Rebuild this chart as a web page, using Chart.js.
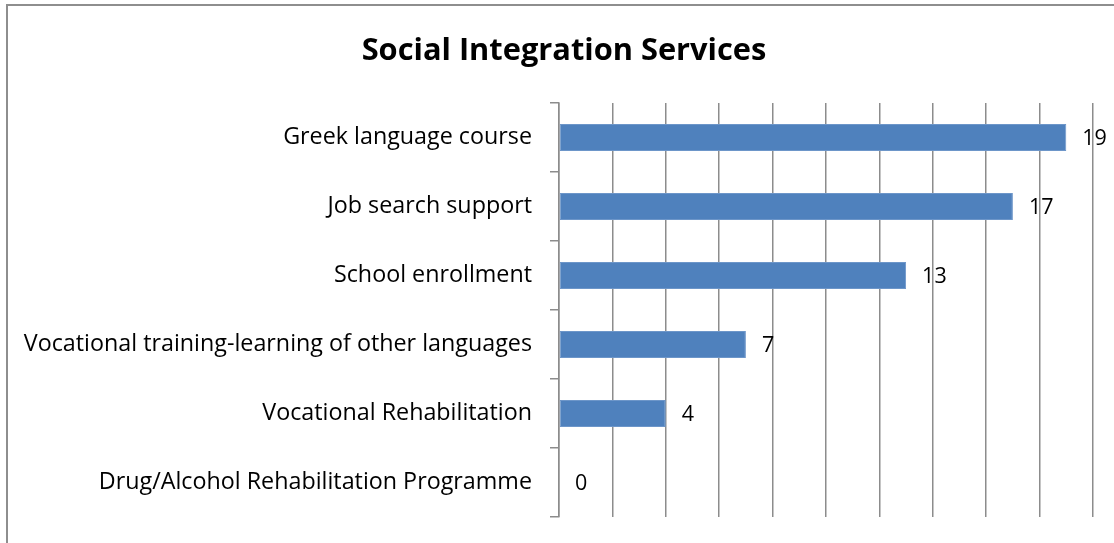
<!DOCTYPE html>
<html>
<head>
<meta charset="utf-8">
<script src="https://cdn.jsdelivr.net/npm/chart.js@4/dist/chart.umd.min.js"></script>
<style>
  html, body { margin: 0; padding: 0; background: #fff; overflow: hidden; }
  #wrap { position: relative; width: 1114px; height: 543px; }
  #frame { position: absolute; left: 6px; top: 4px; width: 1200px; height: 600px;
           border-left: 2px solid #8e8e8e; border-top: 2px solid #8e8e8e; box-sizing: border-box; }
  canvas { position: absolute; left: 0; top: 0; }
</style>
</head>
<body>
<div id="wrap">
  <div id="frame"></div>
  <canvas id="chart" width="1114" height="543"></canvas>
</div>
<script>
// Services offered and the number of beneficiaries for each
const categories = [
  'Greek language course',
  'Job search support',
  'School enrollment',
  'Vocational training-learning of other languages',
  'Vocational Rehabilitation',
  'Drug/Alcohol Rehabilitation Programme'
];
const counts = [19, 17, 13, 7, 4, 0];
const axisMax = 20;
const axisStep = 2;

const FONT = '"Open Sans", "Noto Sans", sans-serif';
const GRID = '#8c8c8c';

// Writes each bar's value just past its end
const valueLabels = {
  id: 'valueLabels',
  afterDatasetsDraw(chart) {
    const ctx = chart.ctx;
    const meta = chart.getDatasetMeta(0);
    ctx.save();
    ctx.font = '21.5px ' + FONT;
    ctx.fillStyle = '#000';
    ctx.textAlign = 'left';
    ctx.textBaseline = 'middle';
    meta.data.forEach((bar, i) => {
      ctx.fillText(String(chart.data.datasets[0].data[i]), bar.x + 16, bar.y + 1);
    });
    ctx.restore();
  }
};

// Lets the long category names use the empty margin left of the axis box
const widenCategoryLabels = {
  id: 'widenCategoryLabels',
  afterLayout(chart) {
    const y = chart.scales.y;
    y.left = 0;
    y.width = y.right;
  }
};

new Chart(document.getElementById('chart'), {
  type: 'bar',
  data: {
    labels: categories,
    datasets: [{
      data: counts,
      backgroundColor: '#4f81bd',
      borderColor: '#6d96c9',
      borderWidth: 1,
      borderSkipped: false,
      categoryPercentage: 1,
      barPercentage: 0.39
    }]
  },
  options: {
    indexAxis: 'y',
    responsive: false,
    animation: false,
    devicePixelRatio: 1,
    layout: { padding: { left: 35, right: 21, top: 0, bottom: 26 } },
    plugins: {
      legend: { display: false },
      tooltip: { enabled: false },
      title: {
        display: true,
        text: 'Social Integration Services',
        color: '#000',
        font: { family: FONT, size: 30.8, weight: 'bold', lineHeight: 1.2 },
        padding: { top: 33, bottom: 33 }
      }
    },
    scales: {
      x: {
        min: 0,
        max: axisMax,
        ticks: { display: false, stepSize: axisStep },
        grid: { color: GRID, lineWidth: 1.5, drawTicks: false },
        border: { display: false },
        afterFit(scale) { scale.height = 0; }
      },
      y: {
        grid: { drawOnChartArea: false, color: GRID, lineWidth: 1.5, tickLength: 9, offset: true },
        border: { color: GRID, width: 1.5 },
        ticks: { color: '#000', padding: 18, font: { family: FONT, size: 23.3 } },
        afterFit(scale) {
          scale.width = 524;
          scale.paddingTop = 0;
          scale.paddingBottom = 0;
        }
      }
    }
  },
  plugins: [valueLabels, widenCategoryLabels]
});
</script>
</body>
</html>
